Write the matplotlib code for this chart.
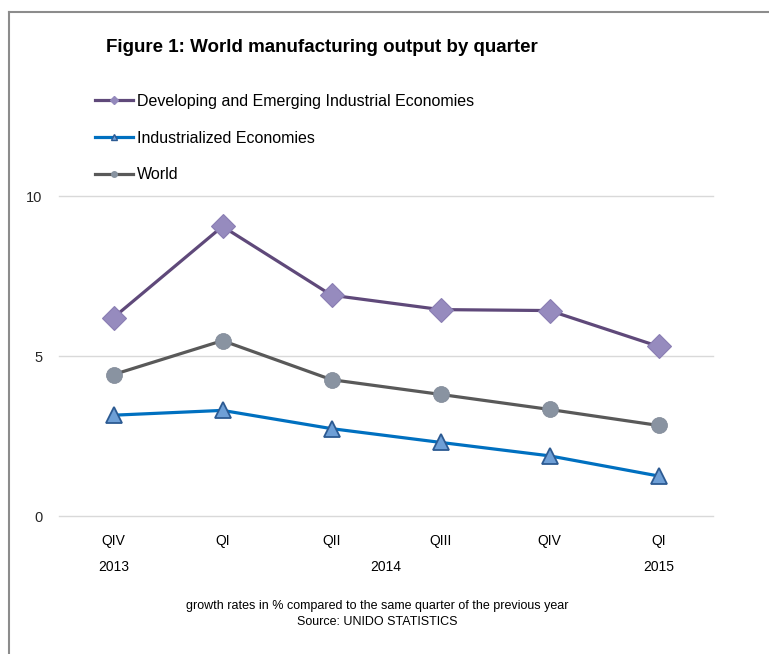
import matplotlib
matplotlib.use("Agg")
import matplotlib.pyplot as plt
from matplotlib.lines import Line2D

# growth rates in % vs same quarter of previous year
quarters = ["QIV", "QI", "QII", "QIII", "QIV", "QI"]
years = ["2013", "2014", "2015"]
year_pos = [0, 2.5, 5]
developing = [6.2, 9.05, 6.9, 6.45, 6.42, 5.3]
industrialized = [3.15, 3.3, 2.73, 2.3, 1.88, 1.25]
world = [4.42, 5.48, 4.26, 3.8, 3.33, 2.83]

plt.rcParams["font.family"] = ["Liberation Sans", "DejaVu Sans"]

fig = plt.figure(figsize=(7.69, 6.54), dpi=100)
ax = fig.add_axes([59 / 769, 1 - 516 / 654, 654 / 769, 320 / 654])

x = list(range(len(quarters)))
ax.plot(x, developing, color="#5F497A", lw=2.3, marker="D", ms=12,
        mfc="#968BBE", mec="#8A7EB3", mew=0.8, clip_on=False, zorder=3)
ax.plot(x, industrialized, color="#0070C0", lw=2.3, marker="^", ms=12,
        mfc="#6E9FD6", mec="#2C5A92", mew=1.3, clip_on=False, zorder=3)
ax.plot(x, world, color="#595959", lw=2.3, marker="o", ms=11.5,
        mfc="#8993A1", mec="#7D8694", mew=0.5, clip_on=False, zorder=3)

ax.set_xlim(-0.5, 5.5)
ax.set_ylim(0, 10)
ax.set_yticks([0, 5, 10])
ax.set_xticks(x)
ax.set_xticklabels(quarters, fontsize=10)
ax.tick_params(axis="x", length=0, pad=13)
ax.tick_params(axis="y", length=0, pad=12, labelsize=10.5, labelcolor="#262626")
ax.grid(axis="y", color="#D9D9D9", lw=1)
for gl in ax.get_ygridlines():
    gl.set_clip_on(False)
ax.set_axisbelow(True)
for s in ax.spines.values():
    s.set_visible(False)

for yp, yr in zip(year_pos, years):
    ax.annotate(yr, xy=(yp, 0), xycoords=("data", "axes fraction"),
                xytext=(0, -51), textcoords="offset pixels",
                ha="center", va="center", fontsize=10)

fig.text(106 / 769, 1 - 47 / 654, "Figure 1: World manufacturing output by quarter",
         fontsize=13.5, fontweight="bold", va="center", ha="left")

# legend
handles = [
    Line2D([], [], color="#5F497A", lw=2.3, marker="D", ms=4, mfc="#9489BC", mec="#9489BC"),
    Line2D([], [], color="#0070C0", lw=2.3, marker="^", ms=5, mfc="#6E9FD6", mec="#2C5A92"),
    Line2D([], [], color="#595959", lw=2.3, marker="o", ms=4, mfc="#8893A0", mec="#8893A0"),
]
labels = ["Developing and Emerging Industrial Economies", "Industrialized Economies", "World"]
fig.legend(handles, labels, loc="upper left", bbox_to_anchor=(95 / 769, 1 - 94 / 654),
           frameon=False, fontsize=11.5, handlelength=2.4, handletextpad=0.2,
           labelspacing=1.35, borderpad=0, borderaxespad=0)

fig.text(377 / 769, 1 - 606 / 654,
         "growth rates in % compared to the same quarter of the previous year",
         fontsize=9, ha="center", va="center")
fig.text(377 / 769, 1 - 622 / 654, "Source: UNIDO STATISTICS",
         fontsize=9, ha="center", va="center")

# frame along top and left edges
fig.add_artist(Line2D([9 / 769, 1], [1 - 12 / 654, 1 - 12 / 654], color="#8C8C8C", lw=1.5))
fig.add_artist(Line2D([9 / 769, 9 / 769], [0, 1 - 12 / 654], color="#8C8C8C", lw=1.5))

fig.savefig("out.png", dpi=100)
